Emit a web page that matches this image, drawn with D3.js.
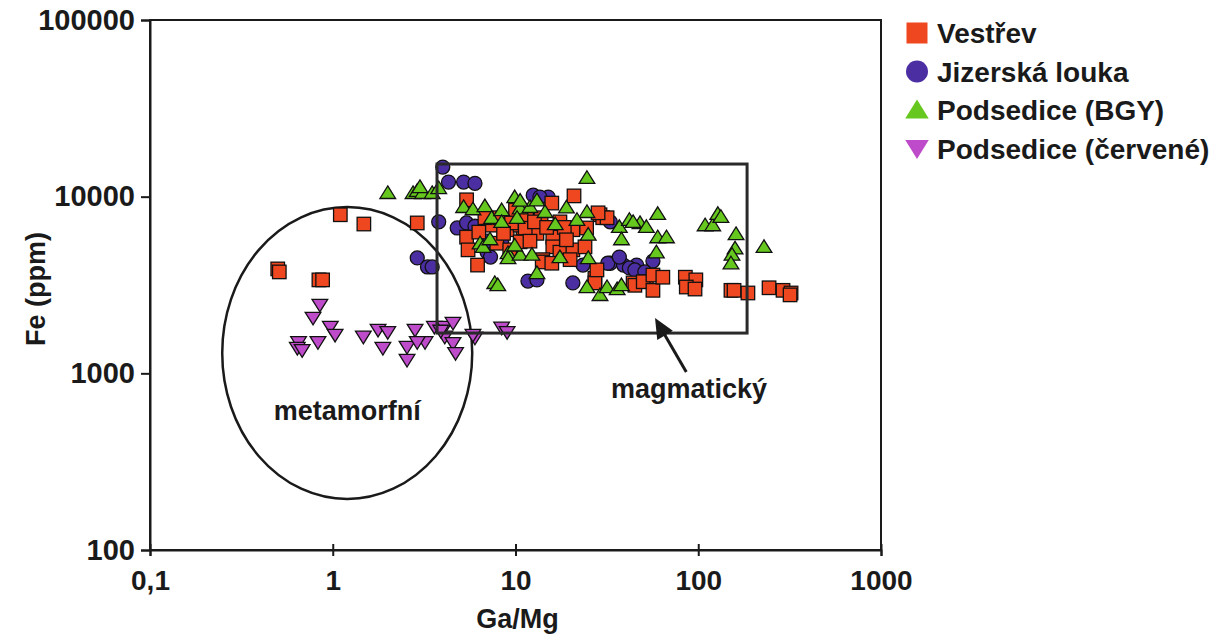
<!DOCTYPE html>
<html><head><meta charset="utf-8">
<script src="https://cdn.jsdelivr.net/npm/d3@7"></script>
<style>body{margin:0;background:#fff}svg{display:block}text{font-family:"Liberation Sans",Arial,sans-serif;font-weight:bold;fill:#1a1a1a}</style>
</head><body><svg id="c" width="1225" height="635"></svg>
<script>
const seriesNames = ["Vestřev","Jizerská louka","Podsedice (BGY)","Podsedice (červené)"];
const xTicks = [0.1,1,10,100,1000];
const xTickLabels = ["0,1","1","10","100","1000"];
const yTicks = [100,1000,10000,100000];
const yTickLabels = ["100","1000","10000","100000"];

// [Ga/Mg, Fe ppm]
const vestrev = [[0.50,3900],[0.51,3750],[0.84,3380],[0.88,3380],[1.10,7900],[1.48,7000],[2.9,7100],
[5.4,9600],[20.9,10100],[15.8,9200],[13.8,7600],[17.5,7200],[20.6,6500],[29,7900],[30,7600],[31.7,7600],[28.3,8100],
[5.4,5900],[5.5,5000],[6.2,4100],[7.4,6900],[9.0,6500],[11.0,6650],[11.6,5850],[13.1,6200],[16.0,5900],[16.0,5200],
[14.1,4400],[17.5,4850],[20.6,5000],[10.6,5550],[7.9,5450],[9.3,5000],[19.9,4400],[27.2,3450],[27.2,3250],[27.9,3850],
[44,3250],[52,3300],[45,3150],[50,3300],[56.5,3600],[56.5,2950],[64,3500],[85,3500],[97,3380],[86,3080],[96,3000],
[151,2950],[157,2950],[187,2850],[244,3050],[291,2950],[322,2850],[318,2780],[8.2,7600],[10.6,6900],[11.3,6650],
[14.0,4270],[15.8,4200],[10.0,8400],[11.5,7900],[12.7,7200],[9.5,7100],[8.6,6200],[12.0,5600],[14.8,6700],[18.5,6700],
[19.0,5700],[24,5200],[6.3,6300],[6.8,7600],[24.5,6650]];
const jizerska = [[4.0,14700],[4.3,12100],[5.2,12100],[6.0,11900],[3.8,7200],[4.8,6650],[5.4,7100],[6.0,6800],
[2.9,4500],[3.3,4000],[3.5,4000],[7.0,4850],[7.3,4550],[8.4,5550],[12.5,10200],[15.1,9950],[13.6,9950],[33,7200],
[33,4200],[39,4100],[46,4100],[11.7,3330],[20.6,3250],[23.4,4100],[32,4200],[37,4550],[42,3950],[56.5,4320],[45,3850],
[51,3750],[13.1,3380],[7.0,5600]];
const podsediceBGY = [[2.0,10500],[2.75,10500],[2.9,10800],[3.1,10500],[3.5,10500],[3.0,11350],[3.8,11200],
[5.2,8750],[5.85,8500],[6.8,8850],[7.4,7600],[8.4,8400],[9.9,9950],[10.6,8600],[12.0,8750],[13.1,9550],[10.2,7600],
[6.4,5450],[6.65,5200],[7.25,5750],[9.1,4800],[9.1,4500],[10.6,4700],[12.3,4700],[9.9,5300],[24.6,12800],[24.6,8200],
[21.7,7400],[25,6100],[37,6750],[42,7400],[38,5750],[25,4500],[17.5,4550],[13.1,3700],[24.6,3080],[29,2780],[31.7,3080],
[36,3000],[38,3160],[7.7,3250],[8.0,3160],[60,8000],[48,7100],[52,6750],[44,7200],[60,5900],[67,5900],[59,4850],
[109,6900],[120,6900],[128,8000],[133,7700],[161,6150],[159,5100],[153,4700],[151,4200],[229,5200],[10.6,9500],[8.4,7200],
[14.5,8200],[16.5,7000],[19,8700]];
const podsediceCervene = [[0.85,2440],[0.78,2060],[0.97,1830],[1.03,1650],[0.83,1500],[0.65,1500],[0.64,1390],[0.68,1350],
[1.47,1610],[1.77,1760],[2.0,1710],[1.88,1390],[2.55,1410],[2.55,1190],[2.82,1760],[3.2,1500],[3.6,1830],[4.1,1830],
[4.55,1930],[4.1,1610],[4.55,1480],[4.7,1300],[6.0,1590],[5.85,1650],[8.4,1810],[9.0,1710],[2.9,1500],[3.9,1740]];

const colors = ["#ef4720","#4c2ea3","#66c81e","#be4bc9"];

// annotations in data units
const ellipseCenter = [1.2,1303], ellipseRadDecades = [0.684,0.826];
const magmaBox = [[3.72,15300],[185,1690]];
const arrowFrom = [86,1017], arrowTo = [58,2055];
const labelMeta = {text:"metamorfní", at:[1.2,545]};
const labelMag = {text:"magmatický", at:[89,725]};

const svg = d3.select("#c");
const L=150,R=881,T=20,B=550;
const x = d3.scaleLog().domain([0.1,1000]).range([L,R]);
const y = d3.scaleLog().domain([100,100000]).range([B,T]);

// frame
svg.append("rect").attr("x",L).attr("y",T).attr("width",R-L).attr("height",B-T).attr("fill","none").attr("stroke","#1a1a1a").attr("stroke-width",2);

// axes
const xa = svg.append("g").attr("transform",`translate(0,${B})`)
  .call(d3.axisBottom(x).tickValues(xTicks).tickFormat((d,i)=>xTickLabels[i]).tickSize(6).tickPadding(14));
xa.selectAll(".tick line").attr("y1",-6).attr("stroke","#1a1a1a").attr("stroke-width",2);
xa.select(".domain").attr("stroke","#1a1a1a").attr("stroke-width",2);
xa.selectAll("text").style("font-size","28px").attr("fill","#1a1a1a");
const ya = svg.append("g").attr("transform",`translate(${L},0)`)
  .call(d3.axisLeft(y).tickValues(yTicks).tickFormat((d,i)=>yTickLabels[i]).tickSize(9).tickPadding(6));
ya.selectAll(".tick line").attr("stroke","#1a1a1a").attr("stroke-width",2);
ya.select(".domain").attr("stroke","#1a1a1a").attr("stroke-width",2);
ya.selectAll("text").style("font-size","29px").attr("fill","#1a1a1a");

svg.append("text").attr("x",(L+R)/2+2).attr("y",628).attr("text-anchor","middle").style("font-size","27px").text("Ga/Mg");
svg.append("text").attr("transform","translate(45,289) rotate(-90)").attr("text-anchor","middle").style("font-size","27px").text("Fe (ppm)");

// ellipse and box
const ecx=x(ellipseCenter[0]), ecy=y(ellipseCenter[1]);
svg.append("ellipse").attr("cx",ecx).attr("cy",ecy)
  .attr("rx",x(ellipseCenter[0]*Math.pow(10,ellipseRadDecades[0]))-ecx)
  .attr("ry",ecy-y(ellipseCenter[1]*Math.pow(10,ellipseRadDecades[1])))
  .attr("fill","none").attr("stroke","#1a1a1a").attr("stroke-width",2.5);

// marker shapes
function marker(g, type, s){
  if(type===0) g.append("rect").attr("x",-s/2).attr("y",-s/2).attr("width",s).attr("height",s);
  else if(type===1) g.append("circle").attr("r",s/2);
  else if(type===2) g.append("path").attr("d",`M0,${-s*0.5}L${s*0.56},${s*0.4}L${-s*0.56},${s*0.4}Z`);
  else g.append("path").attr("d",`M0,${s*0.5}L${s*0.56},${-s*0.4}L${-s*0.56},${-s*0.4}Z`);
}
const allSeries=[vestrev,jizerska,podsediceBGY,podsediceCervene];
const sizes=[13.5,14,14,14];
const order=[1,0,2,3];
order.forEach(si=>{
  const g=svg.append("g").attr("fill",colors[si]).attr("stroke","#111").attr("stroke-width",1.3);
  allSeries[si].forEach(d=>{
    const m=g.append("g").attr("transform",`translate(${x(d[0])},${y(d[1])})`);
    marker(m,si,sizes[si]);
  });
});

svg.append("rect").attr("x",x(magmaBox[0][0])).attr("y",y(magmaBox[0][1]))
  .attr("width",x(magmaBox[1][0])-x(magmaBox[0][0])).attr("height",y(magmaBox[1][1])-y(magmaBox[0][1]))
  .attr("fill","none").attr("stroke","#2a2a2a").attr("stroke-width",3);

// arrow
const ax1=x(arrowFrom[0]),ay1=y(arrowFrom[1]),ax2=x(arrowTo[0]),ay2=y(arrowTo[1]);
const ang=Math.atan2(ay2-ay1,ax2-ax1);
svg.append("line").attr("x1",ax1).attr("y1",ay1).attr("x2",ax2+Math.cos(ang)*-10).attr("y2",ay2+Math.sin(ang)*-10).attr("stroke","#1a1a1a").attr("stroke-width",3);
const hl=20,hw=9;
const bx=ax2-Math.cos(ang)*hl, by=ay2-Math.sin(ang)*hl;
svg.append("path").attr("d",`M${ax2},${ay2}L${bx+Math.sin(ang)*hw},${by-Math.cos(ang)*hw}L${bx-Math.sin(ang)*hw},${by+Math.cos(ang)*hw}Z`).attr("fill","#1a1a1a");

svg.append("text").attr("x",x(labelMeta.at[0])).attr("y",y(labelMeta.at[1])).attr("text-anchor","middle").style("font-size","27px").text(labelMeta.text);
svg.append("text").attr("x",x(labelMag.at[0])).attr("y",y(labelMag.at[1])).attr("text-anchor","middle").style("font-size","27px").text(labelMag.text);

// legend
const lg=svg.append("g").attr("transform","translate(917,33)");
seriesNames.forEach((n,i)=>{
  const r=lg.append("g").attr("transform",`translate(0,${i*38.5})`);
  const m=r.append("g").attr("fill",colors[i]);
  marker(m,i,i===1?22:21);
  r.append("text").attr("x",20).attr("y",10).style("font-size","28px").text(n);
});
</script></body></html>
